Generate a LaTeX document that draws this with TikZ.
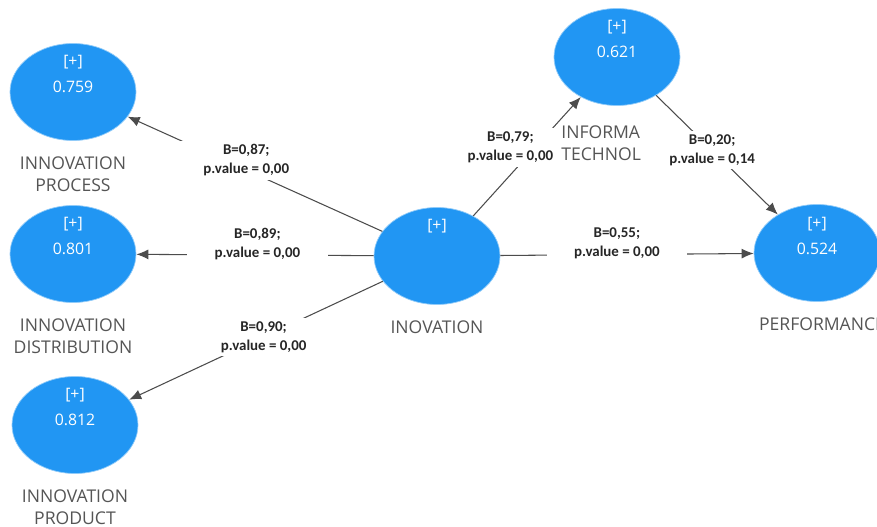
\documentclass[tikz,border=0pt]{standalone}
\usepackage{fontspec}
\setmainfont{Open Sans}
\newfontfamily\coeffont{Carlito}
\usetikzlibrary{shapes.geometric,arrows.meta,positioning}
\definecolor{lvblue}{RGB}{33,150,243}
\definecolor{lvgray}{RGB}{85,85,85}

\begin{document}
\begin{tikzpicture}[x=0.02cm,y=-0.02cm,
  latent/.style={ellipse, fill=lvblue, draw=lvblue!50!white, minimum width=2.52cm, minimum height=1.94cm, inner sep=0pt},
  score/.style={text=white, font=\fontsize{9}{14.5}\selectfont, align=center, anchor=north, inner sep=0pt},
  construct/.style={text=lvgray, font=\fontsize{10}{12.5}\selectfont, align=center, inner sep=0pt},
  link/.style={draw=black!70, line width=0.6pt, -{Latex[length=2.4mm,width=2mm]}},
  coef/.style={fill=white, text=black!85, font=\coeffont\bfseries\fontsize{8.5}{11}\selectfont, align=center, inner xsep=0.55cm, inner ysep=2pt}]
\clip (0,0) rectangle (877,527);
\fill[white] (0,0) rectangle (877,527);

% Latent variables
\node[latent] (proc) at (73,92) {};
\node[score, below=0.24cm of proc.north] {[+]\\0.759};
\node[latent] (dist) at (73,254) {};
\node[score, below=0.24cm of dist.north] {[+]\\0.801};
\node[latent] (prod) at (75,425) {};
\node[score, below=0.24cm of prod.north] {[+]\\0.812};
\node[latent] (inov) at (437,256) {};
\node[score, below=0.24cm of inov.north] {[+]};
\node[latent] (itech) at (617,57) {};
\node[score, below=0.24cm of itech.north] {[+]\\0.621};
\node[latent] (perf) at (817,253) {};
\node[score, below=0.26cm of perf.north] {[+]\\0.524};

% The links:
\draw[link] (inov) -- node[coef, pos=0.55, xshift=0.08cm, yshift=0.16cm] {B=0,87;\\p.value = 0,00} (proc);
\draw[link] (inov) -- node[coef, pos=0.49, yshift=0.22cm] {B=0,89;\\p.value = 0,00} (dist);
\draw[link] (inov) -- node[coef, pos=0.47] {B=0,90;\\p.value = 0,00} (prod);
\draw[link] (inov) -- node[coef, pos=0.485, xshift=-0.3cm, yshift=0.22cm] {B=0,79;\\p.value = 0,00} (itech);
\draw[link] (inov) -- node[coef, pos=0.46, yshift=0.22cm] {B=0,55;\\p.value = 0,00} (perf);
\draw[link] (itech) -- node[coef, pos=0.46] {B=0,20;\\p.value = 0,14} (perf);

% Construct names
\node[construct, below=0.32cm of proc] (proclab) {INNOVATION\\PROCESS};
\node[construct, below=0.32cm of dist] (distlab) {INNOVATION\\DISTRIBUTION};
\node[construct, below=0.32cm of prod] (prodlab) {INNOVATION\\PRODUCT};
\node[construct, below=0.32cm of inov] (inovlab) {INOVATION};
\node[construct, below=0.32cm of perf, xshift=0.1cm] (perflab) {PERFORMANCE};
\node[construct, align=left, anchor=west] (itlab) at (561,143) {INFORMA\\TECHNOL};
\end{tikzpicture}
\end{document}
